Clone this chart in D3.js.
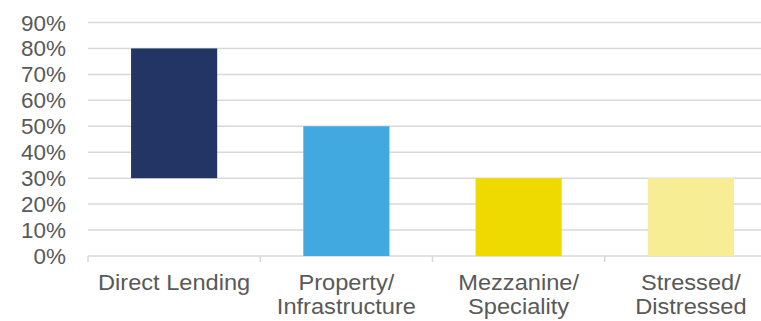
<!DOCTYPE html>
<html>
<head>
<meta charset="utf-8">
<script src="https://cdn.jsdelivr.net/npm/d3@7"></script>
<style>
  body { margin: 0; background: #fff; }
  text { font-family: "Liberation Sans", Arial, sans-serif; fill: #595959; }
</style>
</head>
<body>
<div id="chart"></div>
<script>
var categories = [["Direct Lending"], ["Property/", "Infrastructure"], ["Mezzanine/", "Speciality"], ["Stressed/", "Distressed"]];
var lowValues = [30, 0, 0, 0];
var highValues = [80, 50, 30, 30];
var colors = ["#233564", "#41a9e0", "#efda00", "#f6ed94"];
var yTicks = [0, 10, 20, 30, 40, 50, 60, 70, 80, 90];

var width = 761, height = 321;
var margin = { top: 22, left: 88, bottom: 65 };
var plotRight = 777;

var svg = d3.select("#chart").append("svg")
  .attr("width", width)
  .attr("height", height);

var x = d3.scaleBand()
  .domain(d3.range(categories.length))
  .range([margin.left, plotRight])
  .paddingInner(0)
  .paddingOuter(0);

var y = d3.scaleLinear().domain([0, 90]).range([256, 22.5]);

// gridlines
svg.append("g").selectAll("line")
  .data(yTicks)
  .enter()
  .append("line")
  .attr("x1", margin.left)
  .attr("x2", plotRight)
  .attr("y1", function (d) { return y(d); })
  .attr("y2", function (d) { return y(d); })
  .attr("stroke", "#d9d9d9")
  .attr("stroke-width", 1.5);

// y labels
svg.append("g").selectAll("text")
  .data(yTicks)
  .enter()
  .append("text")
  .attr("transform", function (d) {
    return "translate(66," + (y(d) + 8) + ") scale(1.02,1)";
  })
  .attr("text-anchor", "end")
  .style("font-size", "22px")
  .text(function (d) { return d + "%"; });

// x axis ticks
var bounds = d3.range(categories.length + 1).map(function (i) {
  return i < categories.length ? x(i) : plotRight;
});
svg.append("g").selectAll("line")
  .data(bounds)
  .enter()
  .append("line")
  .attr("x1", function (d) { return d; })
  .attr("x2", function (d) { return d; })
  .attr("y1", y(0))
  .attr("y2", y(0) + 6)
  .attr("stroke", "#d9d9d9")
  .attr("stroke-width", 1.5);

// bars
var bw = x.bandwidth() / 2;
svg.append("g").selectAll("rect")
  .data(categories)
  .enter()
  .append("rect")
  .attr("x", function (d, i) { return x(i) + x.bandwidth() / 2 - bw / 2; })
  .attr("y", function (d, i) { return y(highValues[i]); })
  .attr("width", bw)
  .attr("height", function (d, i) { return y(lowValues[i]) - y(highValues[i]); })
  .attr("fill", function (d, i) { return colors[i]; });

// category labels
var lab = svg.append("g").selectAll("g")
  .data(categories)
  .enter()
  .append("g")
  .attr("transform", function (d, i) {
    return "translate(" + (x(i) + x.bandwidth() / 2) + ",290) scale(1.05,1)";
  });
lab.selectAll("text")
  .data(function (d) { return d; })
  .enter()
  .append("text")
  .attr("y", function (d, j) { return j * 24; })
  .attr("text-anchor", "middle")
  .style("font-size", "22.5px")
  .text(function (d) { return d; });
</script>
</body>
</html>
